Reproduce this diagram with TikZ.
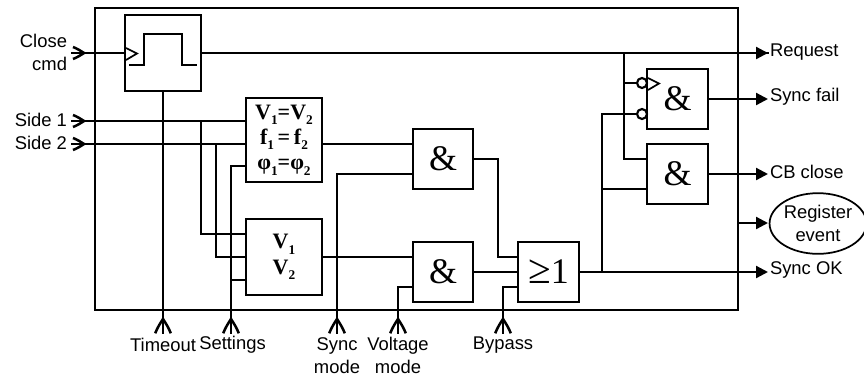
\documentclass[tikz,border=0pt]{standalone}
\usepackage{fontspec}
\setmainfont{Liberation Sans}
\newfontfamily\serifb{Liberation Serif}[BoldFont={Liberation Serif Bold}]
\usetikzlibrary{arrows.meta,shapes.geometric}
\newcommand{\lowidx}[1]{\raisebox{-0.55ex}{\fontsize{10}{10}\selectfont #1}}
\tikzset{
  wire/.style={line width=1.7pt,line cap=rect,line join=miter},
  blk/.style={draw,line width=1.7pt,inner sep=0pt,outer sep=0pt,align=center,fill=white},
  gate/.style={blk,minimum width=45.5pt,minimum height=45.5pt,font=\serifb\fontsize{27}{27}\selectfont},
  formula/.style={font=\serifb\bfseries\fontsize{16.5}{19}\selectfont},
  lbl/.style={inner sep=0pt,outer sep=0pt,font=\fontsize{13.8}{17.25}\selectfont,align=center},
  outarrow/.style={line width=1.7pt,-{Triangle[length=9pt,width=9pt]}},
  bubble/.style={circle,draw,line width=1.6pt,inner sep=0pt,outer sep=0pt,minimum size=7.5pt,fill=white},
  thin wire/.style={line width=1.3pt,line join=miter},
  barbtip/.pic={
    \draw[line width=1.9pt,line cap=butt,line join=miter]
      (-11,-6) .. controls (-7,-4.5) and (-3,-2) .. (0,0)
               .. controls (-3,2) and (-7,4.5) .. (-11,6);
  }
}
\begin{document}
\begin{tikzpicture}[x=0.75pt,y=-0.75pt]
\useasboundingbox (0,0) rectangle (864,376);

% frame and blocks
\node[blk,fill=none,minimum width=482.25pt,minimum height=226.5pt] (outer) at (416.5,159) {};
\node[blk,minimum width=57pt,minimum height=57pt] (timer) at (163,53) {};
\node[blk,formula,minimum width=57pt,minimum height=63pt] (cmp) at (284,140)
  {V\lowidx{1}=V\lowidx{2}\\ f\lowidx{1}\,=\,f\lowidx{2}\\ φ\lowidx{1}=φ\lowidx{2}};
\node[blk,formula,minimum width=57pt,minimum height=57pt] (volt) at (284,257)
  {V\lowidx{1}\\ V\lowidx{2}};
\node[gate] (and1) at (443,159) {\&};
\node[gate] (and2) at (443,272) {\&};
\node[gate] (or) at (548.5,272) {{\fontsize{31}{31}\selectfont ≥}1};
\node[gate] (andf) at (677.5,99) {\&};
\node[gate] (andc) at (677.5,174) {\&};
\node[bubble] (bubA) at (642,83) {};
\node[bubble] (bubB) at (642,114) {};
\node[ellipse,draw,line width=1.3pt,inner sep=0pt,outer sep=0pt,minimum width=69pt,minimum height=45.5pt,lbl] (reg) at (818,223.5) {Register\\event};

% named connector ends
\coordinate (closeS) at (72,53); \coordinate (closeT) at (84,53);
\coordinate (s1S) at (72,121);   \coordinate (s1T) at (84,121);
\coordinate (s2S) at (72,144);   \coordinate (s2T) at (84,144);
\coordinate (toS) at (163,333);  \coordinate (toT) at (163,319);
\coordinate (seS) at (231,333);  \coordinate (seT) at (231,319);
\coordinate (syS) at (337,333);  \coordinate (syT) at (337,319);
\coordinate (voS) at (398,333);  \coordinate (voT) at (398,319);
\coordinate (byS) at (503,333);  \coordinate (byT) at (503,319);
\coordinate (reqT) at (768,53);
\coordinate (failT) at (768,99);
\coordinate (cbT) at (768,174);
\coordinate (regS) at (738,223);
\coordinate (regT) at (768,223);
\coordinate (okT) at (768,272);

% inputs
\draw[wire] (closeS) -- (closeS -| timer.west);
\draw[wire] (s1S) -- (s1S -| cmp.west);
\draw[wire] (s2S) -- (s2S -| cmp.west);
\foreach \c in {close,s1,s2} {\pic at (\c T) {barbtip};}
\foreach \c in {to,se,sy,vo,by} {\pic[rotate=90,scale=1.3] at (\c T) {barbtip};}

% timer
\draw[wire] (toS) -- (toS |- timer.south);
\draw[thin wire] (126,48) -- (137,53.5) -- (126,60);
\draw[thin wire] (129,65) -- (144,65) -- (144,34) -- (182,34) -- (182,65) -- (197,65);
\draw[wire] (closeT -| timer.east) -- (reqT);

% side branches
\draw[wire] (201,121) -- (201,234) -- (246,234);
\draw[wire] (216,144) -- (216,257) -- (246,257);
\draw[wire] (seS) -- (231,166) -- (246,166);
\draw[wire] (231,280) -- (246,280);

% middle logic
\draw[wire] (s2T -| cmp.east) -- (s2T -| and1.west);
\draw[wire] (volt.east) -- (volt.east -| and2.west);
\draw[wire] (syS) -- (337,174) -- (413,174);
\draw[wire] (voS) -- (398,287) -- (413,287);
\draw[wire] (and1.east) -- (498,159) -- (498,257) -- (518,257);
\draw[wire] (and2.east) -- (or.west);
\draw[wire] (byS) -- (503,287) -- (518,287);

% outputs
\draw[outarrow] (or.east) -- (okT);
\draw[wire] (602,272) -- (602,114) -- (bubB.west);
\draw[wire] (602,189) -- (647,189);
\draw[wire] (624,53) -- (624,159) -- (647,159);
\draw[wire] (624,83) -- (bubA.west);
\draw[thin wire] (648,78) -- (659,83.5) -- (648,90);
\draw[outarrow] (failT -| andf.east) -- (failT);
\draw[outarrow] (cbT -| andc.east) -- (cbT);
\draw[outarrow] (regS) -- (regT);
\draw[outarrow] (reqT) ++(-12,0) -- (reqT);

% labels
\node[lbl,anchor=east] (tClose) at (67,41) {Close};
\node[lbl,anchor=east] (tCmd) at (67,64) {cmd};
\node[lbl,anchor=east] (tS1) at (67,120) {Side 1};
\node[lbl,anchor=east] (tS2) at (67,143) {Side 2};
\node[lbl,anchor=west] (tReq) at (770,52) {Request};
\node[lbl,anchor=west] (tFail) at (770,97) {Sync fail};
\node[lbl,anchor=west] (tCb) at (770,172) {CB close};
\node[lbl,anchor=west] (tOk) at (770,270) {Sync OK};
\node[lbl] (tTo) at (163,345) {Timeout};
\node[lbl] (tSe) at (232.5,345) {Settings};
\node[lbl,anchor=north] (tSy) at (337,337.5) {Sync\\mode};
\node[lbl,anchor=north] (tVo) at (398,337.5) {Voltage\\mode};
\node[lbl] (tBy) at (503,345) {Bypass};
\end{tikzpicture}
\end{document}
